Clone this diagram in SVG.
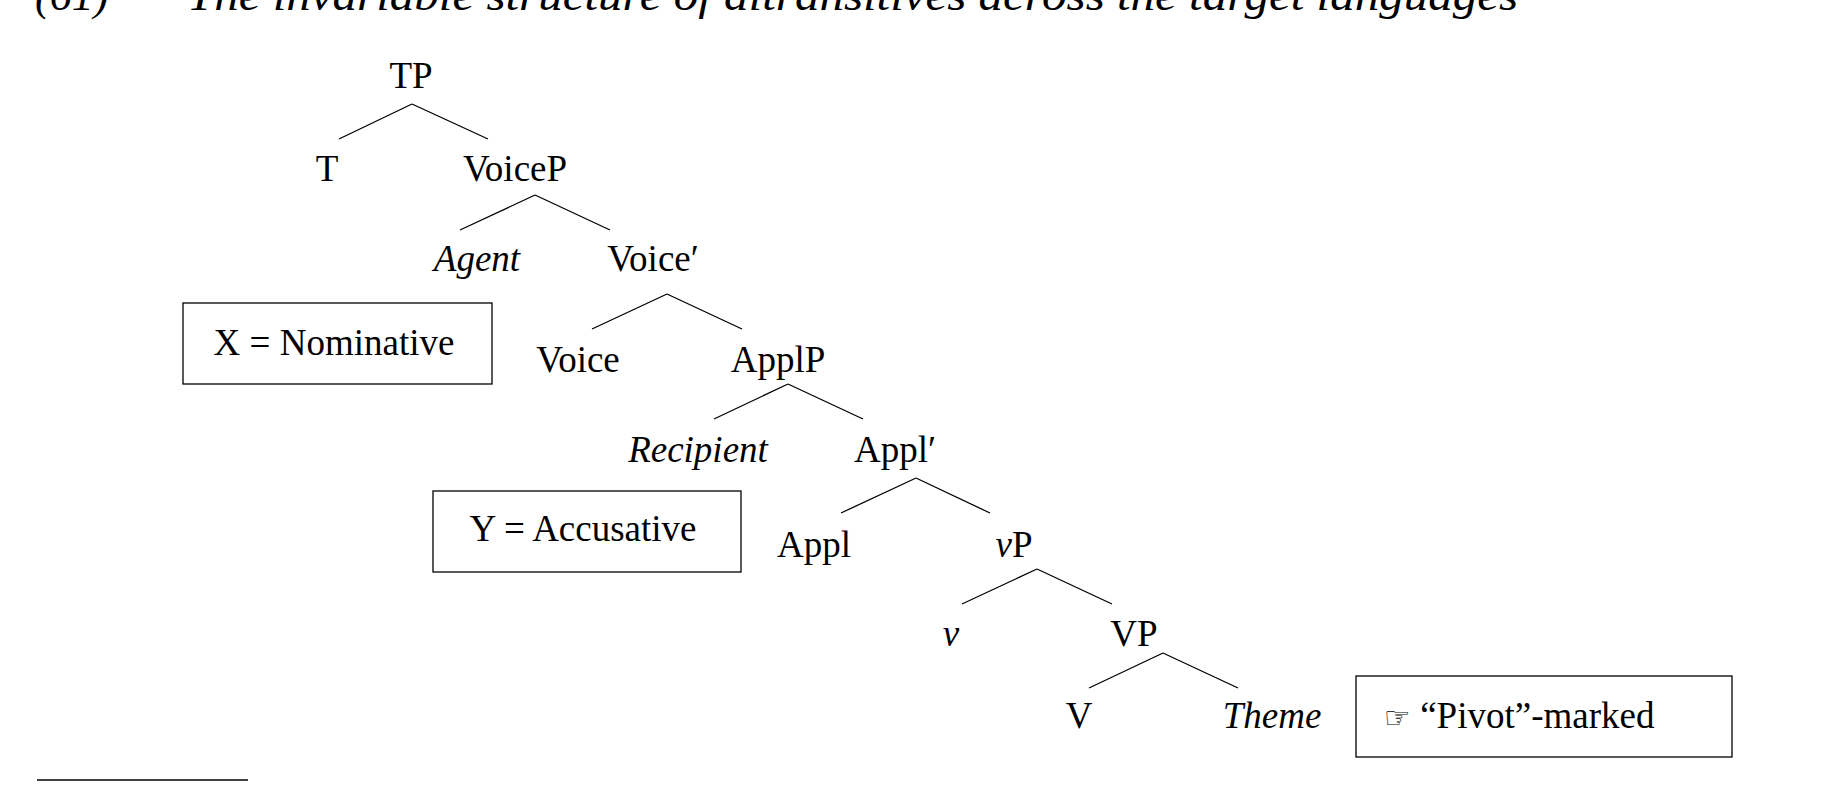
<svg xmlns="http://www.w3.org/2000/svg" width="1832" height="803" viewBox="0 0 1832 803">
<style>
text{font-family:"Liberation Serif","DejaVu Serif",serif;font-size:37px;fill:#000;text-anchor:middle}
.i{font-style:italic}
line{stroke:#000;stroke-width:1.3}
.box{fill:none;stroke:#000;stroke-width:1.3}
</style>
<rect x="0" y="0" width="1832" height="803" fill="#fff"/>
<text x="35" y="10" style="text-anchor:start;font-size:44px" class="i">(61)</text>
<text x="187" y="10" style="text-anchor:start;font-size:44px" class="i" textLength="1331" lengthAdjust="spacingAndGlyphs">The invariable structure of ditransitives across the target languages</text>
<g id="connectors">
<line x1="412" y1="104" x2="339" y2="139"/><line x1="412" y1="104" x2="488" y2="139"/>
<line x1="535" y1="195" x2="460" y2="230"/><line x1="535" y1="195" x2="610" y2="230"/>
<line x1="667" y1="294" x2="592" y2="329"/><line x1="667" y1="294" x2="742" y2="329"/>
<line x1="788" y1="384" x2="714" y2="419"/><line x1="788" y1="384" x2="863" y2="419"/>
<line x1="916" y1="478" x2="841" y2="513"/><line x1="916" y1="478" x2="990" y2="513"/>
<line x1="1037" y1="569" x2="962" y2="604"/><line x1="1037" y1="569" x2="1112" y2="604"/>
<line x1="1163" y1="653" x2="1089" y2="688"/><line x1="1163" y1="653" x2="1238" y2="688"/>
</g>
<g id="TP"><text x="411" y="88">TP</text></g>
<g id="T"><text x="327" y="181">T</text></g>
<g id="VoiceP"><text x="515" y="181">VoiceP</text></g>
<g id="Agent"><text x="477" y="271" class="i">Agent</text></g>
<g id="VoiceBar"><text x="653" y="271">Voice′</text></g>
<g id="boxX"><rect class="box" x="183" y="303" width="309" height="81"/><text x="334" y="355">X = Nominative</text></g>
<g id="Voice"><text x="578" y="372">Voice</text></g>
<g id="ApplP"><text x="778" y="372">ApplP</text></g>
<g id="Recipient"><text x="698" y="462" class="i">Recipient</text></g>
<g id="ApplBar"><text x="895" y="462">Appl′</text></g>
<g id="boxY"><rect class="box" x="433" y="491" width="308" height="81"/><text x="583" y="541">Y = Accusative</text></g>
<g id="Appl"><text x="814" y="557">Appl</text></g>
<g id="vP"><text x="1014" y="557"><tspan class="i">v</tspan>P</text></g>
<g id="v"><text x="951" y="646" class="i">v</text></g>
<g id="VP"><text x="1134" y="646">VP</text></g>
<g id="V"><text x="1079" y="728">V</text></g>
<g id="Theme"><text x="1272" y="728" class="i">Theme</text></g>
<g id="boxPivot"><rect class="box" x="1356" y="676" width="376" height="81"/><text x="1384" y="728" style="text-anchor:start"><tspan font-family="DejaVu Sans" font-size="30">☞</tspan> “Pivot”-marked</text></g>
<line x1="37" y1="780" x2="248" y2="780" stroke-width="2"/>
</svg>
